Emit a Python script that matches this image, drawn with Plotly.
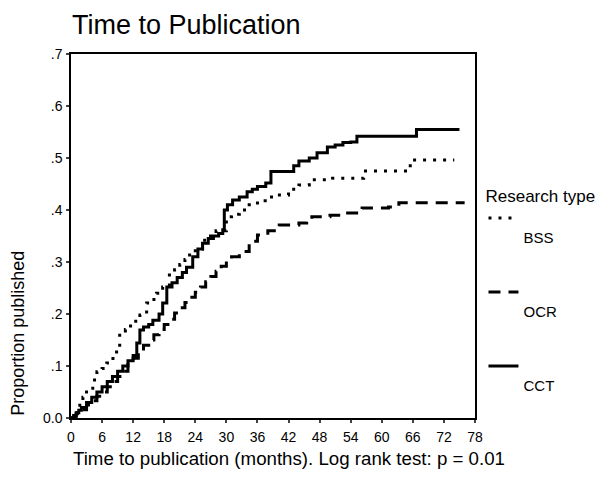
import plotly.graph_objects as go

# ---- data ----
cct_t = [0, 0.5, 1, 1.5, 2, 3, 4, 5, 6, 7, 8, 9, 10, 11, 12, 12.7, 13.3, 14, 15, 15.8, 17, 17.7, 18.5,
         19.5, 20.5, 21.5, 22.3, 23.5, 24.5, 25.4, 26.5, 27.5, 28.5, 29.3, 29.6, 30.2, 31.2, 32.5, 34, 35,
         36, 37.6, 38.6, 41.5, 43, 44, 46, 47.5, 49.5, 51, 52.5, 54, 55.2, 66.7, 75]
cct_p = [0, 0.005, 0.01, 0.015, 0.02, 0.03, 0.04, 0.05, 0.06, 0.07, 0.08, 0.09, 0.10, 0.11, 0.12, 0.144,
         0.169, 0.175, 0.18, 0.188, 0.2, 0.221, 0.252, 0.26, 0.27, 0.28, 0.29, 0.31, 0.325, 0.336, 0.345,
         0.35, 0.355, 0.362, 0.40, 0.41, 0.419, 0.425, 0.435, 0.44, 0.445, 0.452, 0.474, 0.474, 0.485,
         0.494, 0.5, 0.51, 0.521, 0.525, 0.53, 0.531, 0.542, 0.555, 0.555]

ocr_t = [0, 1, 2, 3, 4, 5, 6, 7, 8, 9, 10, 11, 12, 13, 14, 15, 16, 17, 18, 19, 20, 21, 22, 23, 24, 25,
         26, 27, 28, 29, 30, 31, 32.5, 34.4, 36, 38, 40.2, 44, 45.5, 46.5, 50, 52.3, 56.2, 61.3, 63.3, 76]
ocr_p = [0, 0.008, 0.016, 0.025, 0.033, 0.042, 0.05, 0.06, 0.07, 0.08, 0.09, 0.103, 0.115, 0.127, 0.14, 0.15,
         0.16, 0.17, 0.18, 0.19, 0.202, 0.212, 0.222, 0.232, 0.242, 0.252, 0.262, 0.272, 0.282, 0.292,
         0.302, 0.31, 0.32, 0.34, 0.352, 0.36, 0.371, 0.375, 0.38, 0.387, 0.39, 0.394, 0.404, 0.406,
         0.414, 0.414]

bss_t = [0, 0.6, 1.2, 1.7, 2.3, 3, 4.2, 5, 6, 6.9, 7.5, 8.1, 8.8, 9.4, 10.5, 11.5, 12.5, 13.3, 14.6,
         15.5, 16.5, 17.7, 19, 20, 21, 22, 22.9, 24, 25.4, 26.5, 28, 30, 31, 32.5, 34.4, 36, 37.5, 39.2,
         42, 44, 46, 50.5, 55.6, 56.5, 64.8, 65.5, 74]
bss_p = [0, 0.01, 0.021, 0.03, 0.04, 0.057, 0.073, 0.089, 0.095, 0.106, 0.111, 0.12, 0.137, 0.163, 0.17,
         0.18, 0.19, 0.198, 0.221, 0.228, 0.24, 0.252, 0.279, 0.285, 0.295, 0.305, 0.317, 0.325, 0.342,
         0.35, 0.36, 0.387, 0.392, 0.4, 0.41, 0.418, 0.425, 0.429, 0.44, 0.448, 0.458, 0.461, 0.461,
         0.475, 0.475, 0.496, 0.496]

x_ticks = [0, 6, 12, 18, 24, 30, 36, 42, 48, 54, 60, 66, 72, 78]
y_ticks = [0, 0.1, 0.2, 0.3, 0.4, 0.5, 0.6, 0.7]
y_ticktext = ["0.0", ".1", ".2", ".3", ".4", ".5", ".6", ".7"]

FONT = "Liberation Sans, Arial, sans-serif"

fig = go.Figure()
series = [
    ("BSS", bss_t, bss_p, "3px,7px"),
    ("OCR", ocr_t, ocr_p, "12px,8px"),
    ("CCT", cct_t, cct_p, "solid"),
]
for name, t, p, dash in series:
    fig.add_trace(go.Scatter(
        x=t, y=p, mode="lines", line_shape="hv", name="<br>" + name,
        legendgroup=name,
        line=dict(color="black", width=3, dash=dash),
    ))

fig.update_layout(
    width=609, height=489,
    margin=dict(l=71, r=132, t=54, b=71),
    paper_bgcolor="white", plot_bgcolor="white",
    font=dict(family=FONT, color="black", size=14),
    title=dict(text="Time to Publication", font=dict(size=27, family=FONT),
               x=72 / 609, xanchor="left", y=1 - 25 / 489, yanchor="middle"),
    showlegend=True,
    legend=dict(
        title=dict(text="Research type", font=dict(size=17)),
        font=dict(size=15), x=1.021, xanchor="left", y=0.655, yanchor="top",
        valign="top", tracegroupgap=32, bgcolor="rgba(0,0,0,0)", borderwidth=0,
    ),
    xaxis=dict(range=[0, 78], tickvals=x_ticks, ticks="outside", ticklen=3, tickwidth=2,
               showline=True, linewidth=1.5, linecolor="black", mirror=True,
               showgrid=False, zeroline=False, tickfont=dict(size=14), ticklabelstandoff=2),
    yaxis=dict(range=[0, 0.7], tickvals=y_ticks, ticktext=y_ticktext, ticks="outside", ticklen=3,
               tickwidth=2, showline=True, linewidth=1.5, linecolor="black", mirror=True,
               showgrid=False, zeroline=False, tickfont=dict(size=14), ticklabelstandoff=1),
    annotations=[
        dict(text="Time to publication (months). Log rank test: p = 0.01", xref="paper", yref="paper",
             x=0, xanchor="left", y=-40 / 364, yanchor="middle", showarrow=False,
             font=dict(size=18.7)),
        dict(text="Proportion published", xref="paper", yref="paper", textangle=-90,
             x=-54 / 406, xanchor="center", y=0, yanchor="bottom", showarrow=False,
             font=dict(size=18)),
    ],
)

fig.write_html("out.html", config={"displayModeBar": False},
               post_script="document.body.style.margin='0';")
